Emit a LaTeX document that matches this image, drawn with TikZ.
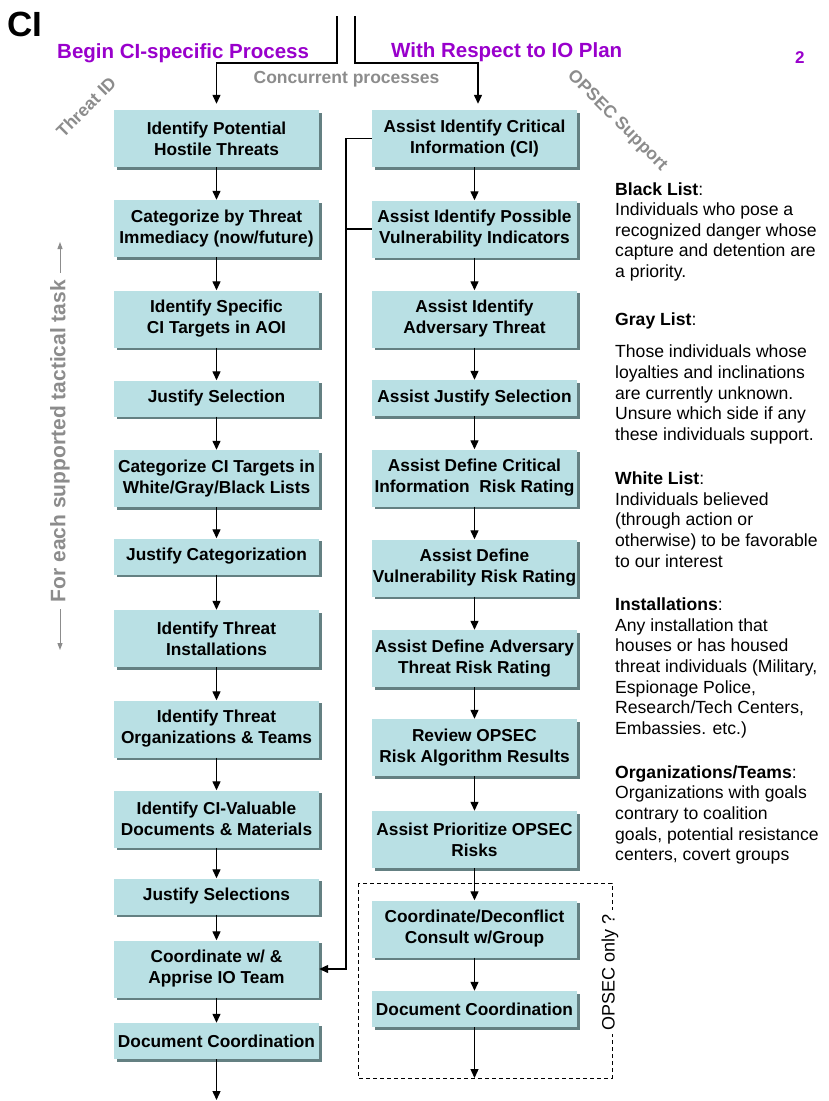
\documentclass[tikz,border=0pt]{standalone}
\usepackage{fontspec}
\setmainfont{Liberation Sans}
\usetikzlibrary{arrows.meta,shadows}
\definecolor{boxfill}{RGB}{185,224,228}
\definecolor{boxshade}{RGB}{100,128,130}
\definecolor{titlepurple}{RGB}{153,0,204}
\definecolor{labelgray}{RGB}{140,140,140}
\newcommand\fsz[2]{\fontsize{#1}{#2}\selectfont}
\begin{document}
\begin{tikzpicture}[x=1pt,y=-1pt,
  box/.style={fill=boxfill,
    drop shadow={shadow xshift=2.5pt,shadow yshift=-2.5pt,fill=boxshade,opacity=1},
    minimum width=205pt, minimum height=57pt, inner sep=0pt, align=center,
    font=\bfseries\fsz{17.3}{21}},
  onebox/.style={box, minimum height=36pt},
  link/.style={line width=1.3pt, black},
  arr/.style={link, -{Triangle[length=9pt,width=8pt]}},
  garr/.style={line width=1pt, labelgray, -{Triangle[length=7pt,width=5pt]}},
  note/.style={inner sep=0pt, font=\fsz{17.6}{20.6}},
  side/.style={text=labelgray, font=\bfseries\fsz{17.5}{20}},
  title/.style={text=titlepurple, font=\bfseries\fsz{20.5}{24}, inner sep=0pt}]
\useasboundingbox[fill=white] (0,0) rectangle (828,1101);

% headings
\node[anchor=base west, inner sep=0pt, font=\bfseries\fsz{35}{40}] (ci) at (7,36) {CI};
\node[title, anchor=base west] (begin) at (57,58) {Begin CI-specific Process};
\node[title, anchor=base west] (wrt) at (391,57) {With Respect to IO Plan};
\node[anchor=base west, inner sep=0pt, text=titlepurple, font=\bfseries\fsz{17}{20}] (pg) at (795,63) {2};
\node[side, anchor=base, inner sep=0pt] (conc) at (346.5,83) {Concurrent processes};
\node[side, rotate=45] (tid) at (86,107) {Threat ID};
\node[side, rotate=-45] (ops) at (617,121) {OPSEC Support};
\node[side, rotate=90, font=\bfseries\fsz{21}{24}, inner sep=7pt] (task) at (60,441) {For each supported tactical task};
\coordinate (taskup) at (60,242);
\coordinate (taskdown) at (60,650);
\draw[garr] (task.east) -- (taskup);
\draw[garr] (task.west) -- (taskdown);

% threat identification column
\node[box] (l1) at (216.5,138.5) {Identify Potential\\Hostile Threats};
\node[box] (l2) at (216.5,228.5) {Categorize by Threat\\Immediacy (now/future)};
\node[box] (l3) at (216.5,319) {Identify Specific\\CI Targets in AOI};
\node[onebox] (l4) at (216.5,398.5) {Justify Selection};
\node[box] (l5) at (216.5,478.5) {Categorize CI Targets in\\White/Gray/Black Lists};
\node[onebox] (l6) at (216.5,556.5) {Justify Categorization};
\node[box] (l7) at (216.5,638.5) {Identify Threat\\Installations};
\node[box] (l8) at (216.5,729) {Identify Threat\\Organizations \& Teams};
\node[box] (l9) at (216.5,819) {Identify CI-Valuable\\Documents \& Materials};
\node[onebox] (l10) at (216.5,896.5) {Justify Selections};
\node[box] (l11) at (216.5,969) {Coordinate w/ \&\\Apprise IO Team};
\node[onebox] (l12) at (216.5,1041) {Document Coordination};

% OPSEC support column
\node[box] (r1) at (474.5,138.5) {Assist Identify Critical\\Information (CI)};
\node[box] (r2) at (474.5,229) {Assist Identify Possible\\Vulnerability Indicators};
\node[box] (r3) at (474.5,319) {Assist Identify\\Adversary Threat};
\node[onebox] (r4) at (474.5,398) {Assist Justify Selection};
\node[box] (r5) at (474.5,478) {Assist Define Critical\\Information~~Risk Rating};
\node[box] (r6) at (474.5,568) {Assist Define\\Vulnerability Risk Rating};
\node[box] (r7) at (474.5,658.5) {Assist Define Adversary\\Threat Risk Rating};
\node[box] (r8) at (474.5,747.5) {Review OPSEC\\Risk Algorithm Results};
\node[box] (r9) at (474.5,839.5) {Assist Prioritize OPSEC\\Risks};
\node[box] (r10) at (474.5,929) {Coordinate/Deconflict\\Consult w/Group};
\node[onebox] (r11) at (474.5,1009) {Document Coordination};

% OPSEC-only group
\draw[line width=1pt, dash pattern=on 4pt off 3pt] (358,883) rectangle (612,1078);
\node[rotate=90, fill=white, inner xsep=4pt, inner ysep=1pt, font=\fsz{18}{20}] (opsonly) at (610,972) {OPSEC only ?};

% entry connectors
\coordinate (startL) at (337,16);
\coordinate (startR) at (355,16);
\draw[arr, shorten >=6pt] (startL) -- (337,63) -| (l1.north);
\draw[arr, shorten >=6pt] (startR) -- (355,63) -| ([xshift=3.5pt]r1.north);

% flow within the columns
\foreach \a/\b in {l1/l2,l2/l3,l3/l4,l4/l5,l5/l6,l6/l7,l7/l8,l8/l9,l9/l10,l10/l11,l11/l12,
                   r1/r2,r2/r3,r3/r4,r4/r5,r5/r6,r6/r7,r7/r8,r8/r9,r9/r10,r10/r11}
  \draw[arr] (\a) -- (\b);
\coordinate (leftend) at (216.5,1100);
\coordinate (rightend) at (474.5,1078);
\draw[arr] (l12) -- (leftend);
\draw[arr] (r11) -- (rightend);

% feedback from the OPSEC column to the IO team coordination
\coordinate (fbx) at (346,0);
\draw[link] (r2.west) -- (r2.west -| fbx);
\draw[arr] (r1.west) -- (r1.west -| fbx) |- (l11.east);

% list definitions
\foreach \yy/\txt [count=\k] in {
  195/{\textbf{Black List}:},
  215/{Individuals who pose a},
  236/{recognized danger whose},
  256/{capture and detention are},
  277/{a priority.},
  325/{\textbf{Gray List}:},
  357/{Those individuals whose},
  378/{loyalties and inclinations},
  399/{are currently unknown.},
  419/{Unsure which side if any},
  440/{these individuals support.},
  484/{\textbf{White List}:},
  505/{Individuals believed},
  525/{(through action or},
  546/{otherwise) to be favorable},
  567/{to our interest},
  610/{\textbf{Installations}:},
  631/{Any installation that},
  651/{houses or has housed},
  672/{threat individuals (Military,},
  693/{Espionage Police,},
  713/{Research/Tech Centers,},
  734/{Embassies. etc.)},
  778/{\textbf{Organizations/Teams}:},
  798/{Organizations with goals},
  819/{contrary to coalition},
  840/{goals, potential resistance},
  860/{centers, covert groups}}
  \node[note, anchor=base west] (note\k) at (615,\yy) {\txt};
\end{tikzpicture}
\end{document}
